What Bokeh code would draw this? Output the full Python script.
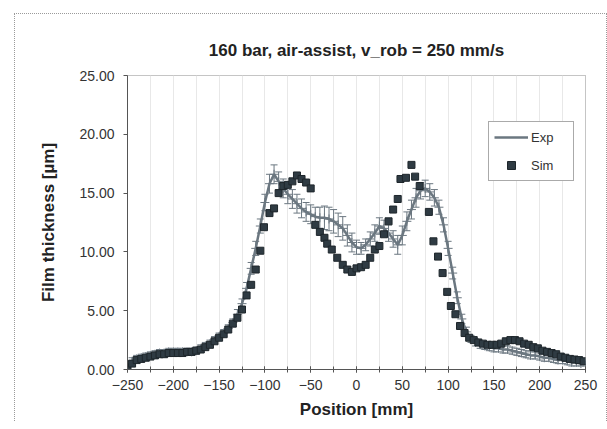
from bokeh.plotting import figure
from bokeh.models import (Range1d, FixedTicker, Legend, LegendItem, Whisker,
                          ColumnDataSource, TeeHead, PrintfTickFormatter)
from bokeh.layouts import column
from bokeh.embed import file_html
from bokeh.resources import INLINE

# ---------------- data ----------------
exp_pos = list(range(-250, 251, 5))
exp_vals = [0.3, 0.7, 0.9, 1.0, 1.1, 1.2, 1.3, 1.4, 1.4, 1.5,
            1.5, 1.5, 1.5, 1.5, 1.5, 1.6, 1.8, 2.0, 2.2, 2.5,
            2.8, 3.1, 3.5, 4.0, 4.7, 5.6, 6.9, 8.6, 10.3, 12.2,
            14.2, 15.8, 16.6, 16.0, 15.4, 14.9, 14.5, 14.1, 13.7, 13.4,
            13.2, 13.0, 12.9, 12.9, 12.8, 12.6, 12.3, 12.0, 11.4, 10.8,
            10.4, 10.3, 10.6, 11.1, 11.6, 12.2, 12.0, 11.6, 11.1, 10.6,
            11.4, 12.6, 13.6, 14.6, 15.2, 15.4, 15.1, 14.6, 13.8, 12.3,
            10.3, 8.2, 6.1, 4.3, 3.2, 2.6, 2.3, 2.1, 2.0, 1.9,
            1.8, 1.8, 1.7, 1.7, 1.6, 1.5, 1.4, 1.3, 1.2, 1.2,
            1.1, 1.0, 1.0, 0.9, 0.8, 0.8, 0.7, 0.6, 0.6, 0.5, 0.5]
exp_err = [0.2, 0.3, 0.3, 0.3, 0.3, 0.3, 0.3, 0.3, 0.3, 0.3,
           0.3, 0.3, 0.3, 0.3, 0.3, 0.3, 0.3, 0.3, 0.3, 0.3,
           0.3, 0.3, 0.3, 0.3, 0.4, 0.4, 0.5, 0.5, 0.6, 0.6,
           0.7, 0.8, 0.8, 0.8, 0.8, 0.8, 0.8, 0.8, 0.8, 0.8,
           0.8, 0.8, 0.9, 1.0, 1.0, 1.0, 1.0, 1.0, 0.9, 0.8,
           0.6, 0.5, 0.5, 0.6, 0.7, 0.7, 0.7, 0.7, 0.7, 0.8,
           0.8, 0.8, 0.8, 0.8, 0.7, 0.7, 0.7, 0.7, 0.6, 0.6,
           0.6, 0.5, 0.5, 0.4, 0.4, 0.3, 0.3, 0.3, 0.3, 0.3,
           0.3, 0.3, 0.3, 0.3, 0.3, 0.3, 0.3, 0.3, 0.3, 0.3,
           0.3, 0.3, 0.3, 0.3, 0.3, 0.3, 0.3, 0.3, 0.3, 0.2, 0.2]

sim_pos = [-250, -245, -240, -235, -230, -225, -220, -215, -210, -205,
           -200, -195, -190, -185, -180, -175, -170, -165, -160, -155,
           -150, -145, -140, -135, -130, -125, -120, -115, -110, -105,
           -101, -95, -90, -85, -80, -75, -70, -65, -60, -55,
           -50, -45, -40, -35, -32, -27, -21, -15, -10, -5,
           0, 5, 10, 15, 20, 25, 30, 35, 40, 45,
           48, 54, 60, 64, 69, 79, 84, 89, 94, 99,
           103, 108, 113, 118, 123, 128, 133, 138, 143, 148,
           153, 158, 163, 168, 173, 178, 183, 188, 193, 198,
           203, 208, 213, 218, 223, 228, 233, 238, 243, 248]
sim_vals = [0.1, 0.5, 0.8, 0.9, 1.0, 1.1, 1.2, 1.3, 1.3, 1.4,
            1.4, 1.4, 1.4, 1.5, 1.5, 1.6, 1.7, 1.9, 2.1, 2.4,
            2.7, 3.0, 3.4, 3.9, 4.4, 5.1, 6.3, 7.2, 8.5, 10.1,
            12.1, 13.3, 13.7, 15.0, 15.6, 15.7, 16.0, 16.5, 16.2, 15.9,
            15.4, 12.3, 11.7, 11.2, 10.7, 10.2, 9.5, 8.9, 8.5, 8.3,
            8.6, 8.7, 8.9, 9.5, 10.2, 10.5, 11.5, 12.6, 13.6, 14.5,
            16.2, 16.3, 17.4, 16.4, 15.6, 13.4, 10.9, 9.6, 8.2, 6.6,
            5.4, 4.7, 3.7, 3.1, 2.7, 2.5, 2.3, 2.2, 2.1, 2.1,
            2.1, 2.2, 2.4, 2.5, 2.5, 2.4, 2.2, 2.1, 1.9, 1.8,
            1.6, 1.5, 1.4, 1.3, 1.1, 1.0, 0.9, 0.85, 0.8, 0.7]

x_ticks = [-250, -200, -150, -100, -50, 0, 50, 100, 150, 200, 250]
x_minor = list(range(-250, 251, 25))
y_ticks = [0, 5, 10, 15, 20, 25]
title_text = "160 bar, air-assist, v_rob = 250 mm/s"

FONT = "Liberation Sans"
EXP_COLOR = "#6b7780"
SIM_COLOR = "#2f3b43"

p = figure(width=591, height=407, output_backend="svg", toolbar_location=None,
           x_range=Range1d(-250, 250), y_range=Range1d(0, 25),
           min_border_left=112, min_border_right=21, min_border_top=61,
           min_border_bottom=51, title=title_text)

p.title.text_font = FONT
p.title.text_font_size = "17px"
p.title.text_font_style = "bold"
p.title.text_color = "#222222"
p.title.align = "center"
p.title.standoff = 32

p.background_fill_color = "white"
p.border_fill_color = "white"
p.outline_line_color = "#8a8a8a"
p.outline_line_dash = "1 1"

# axes
xa = p.xaxis[0]
xa.ticker = FixedTicker(ticks=x_ticks, minor_ticks=x_minor)
xa.axis_label = "Position [mm]"
ya = p.yaxis[0]
ya.ticker = FixedTicker(ticks=y_ticks)
ya.formatter = PrintfTickFormatter(format="%.2f")
ya.axis_label = "Film thickness [µm]"
for ax in (xa, ya):
    ax.axis_label_text_font = FONT
    ax.axis_label_text_font_style = "bold"
    ax.axis_label_text_font_size = "17px"
    ax.axis_label_text_color = "#222222"
    ax.major_label_text_font = FONT
    ax.major_label_text_color = "#333333"
    ax.axis_line_color = "#555555"
    ax.major_tick_line_color = "#555555"
    ax.minor_tick_line_color = "#555555"
xa.major_label_text_font_size = "14px"
ya.major_label_text_font_size = "14px"
xa.major_tick_in = 3
xa.major_tick_out = 3
xa.minor_tick_in = 3
xa.minor_tick_out = 3
xa.major_label_standoff = 7
xa.axis_label_standoff = 7
ya.major_tick_in = 0
ya.major_tick_out = 4
ya.minor_tick_line_color = None
ya.major_label_standoff = 9
ya.axis_label_standoff = 18

p.xgrid.ticker = FixedTicker(ticks=list(range(-225, 250, 25)))
p.xgrid.grid_line_color = "#e8e8e8"
p.ygrid.grid_line_color = None

# Exp with error bars
lower = [v - e for v, e in zip(exp_vals, exp_err)]
upper = [v + e for v, e in zip(exp_vals, exp_err)]
src = ColumnDataSource(dict(x=exp_pos, y=exp_vals, lower=lower, upper=upper))
wh = Whisker(base="x", lower="lower", upper="upper", source=src,
             line_color=EXP_COLOR, line_width=1,
             upper_head=TeeHead(size=7, line_color=EXP_COLOR),
             lower_head=TeeHead(size=7, line_color=EXP_COLOR))
p.add_layout(wh)
p.scatter("x", "y", source=src, marker="cross", size=9, line_color=EXP_COLOR,
          line_width=1)
exp_r = p.line("x", "y", source=src, line_color=EXP_COLOR, line_width=2.5)

sim_r = p.scatter(sim_pos, sim_vals, marker="square", size=7,
                  fill_color=SIM_COLOR, line_color="#1e262b")

legend = Legend(items=[LegendItem(label="Exp", renderers=[exp_r]),
                       LegendItem(label="Sim", renderers=[sim_r])],
                location=(361, 188))
legend.border_line_color = "#555555"
legend.border_line_width = 1
legend.background_fill_color = "white"
legend.background_fill_alpha = 1
legend.label_text_font = FONT
legend.label_text_font_size = "13px"
legend.label_text_color = "#333333"
legend.padding = 5
legend.spacing = 8
legend.glyph_width = 34
legend.glyph_height = 20
legend.label_height = 20
legend.label_width = 37
legend.label_standoff = 3
legend.margin = 0
p.add_layout(legend, "center")

layout = column(p, margin=(13, 0, 0, 14),
                styles={"border-top": "1px dotted #9a9a9a",
                        "border-left": "1px dotted #9a9a9a",
                        "border-right": "1px dotted #9a9a9a"})

open("out.html", "w").write(file_html(layout, INLINE))
